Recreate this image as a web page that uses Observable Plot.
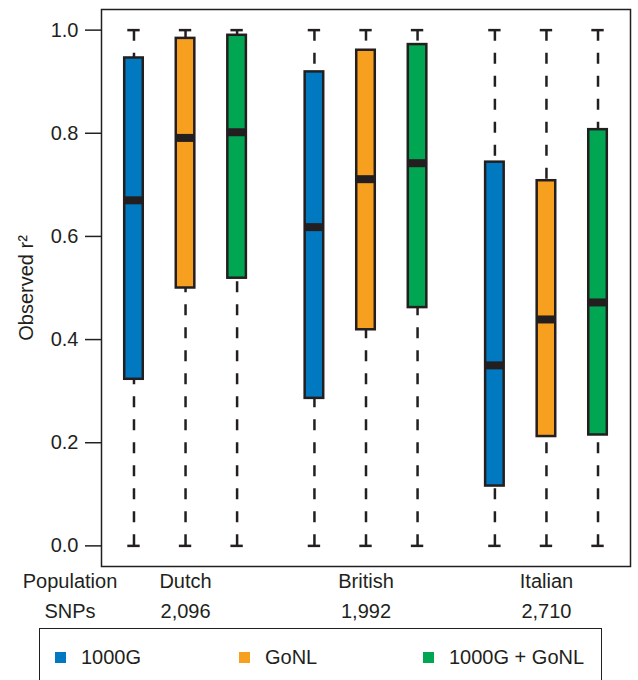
<!DOCTYPE html>
<html>
<head>
<meta charset="utf-8">
<script src="https://cdn.jsdelivr.net/npm/d3@7"></script>
<script src="https://cdn.jsdelivr.net/npm/@observablehq/plot@0.6"></script>
<style>
  html, body { margin: 0; padding: 0; background: #fff; }
  body { font-family: "Liberation Sans", Arial, sans-serif; color: #231f20; width: 638px; }
  #legend { margin-left: 39px; margin-top: 4px; width: 561px; height: 60px; border: 1.5px solid #231f20; border-bottom: none; position: relative; font-size: 20px; }
  .item { position: absolute; top: 17px; display: flex; align-items: center; }
  .sw { width: 11px; height: 11px; margin-right: 15px; }
</style>
</head>
<body>
<div id="chart"></div>
<div id="legend"></div>
<script>
const groups = ["Dutch", "British", "Italian"];
const snps = ["2,096", "1,992", "2,710"];
const panels = ["1000G", "GoNL", "1000G + GoNL"];
const colors = ["#0079c1", "#f79f1f", "#00a651"];
// per group (rows) and panel (columns)
const whiskerLow = [[0.0, 0.0, 0.0], [0.0, 0.0, 0.0], [0.0, 0.0, 0.0]];
const q1 = [[0.323, 0.500, 0.519], [0.286, 0.419, 0.462], [0.116, 0.212, 0.215]];
const median = [[0.670, 0.791, 0.802], [0.618, 0.711, 0.742], [0.350, 0.439, 0.472]];
const q3 = [[0.946, 0.984, 0.990], [0.919, 0.961, 0.972], [0.744, 0.708, 0.807]];
const whiskerHigh = [[1.0, 1.0, 1.0], [1.0, 1.0, 1.0], [1.0, 1.0, 1.0]];
const yTicks = [0, 0.2, 0.4, 0.6, 0.8, 1.0];

const rows = [];
groups.forEach((g, gi) => panels.forEach((p, pi) => {
  rows.push({group: g, panel: p, pos: 1 + gi * 3.5 + pi, lo: whiskerLow[gi][pi], q1: q1[gi][pi], med: median[gi][pi], q3: q3[gi][pi], hi: whiskerHigh[gi][pi]});
}));
const centers = groups.map((g, gi) => 1 + gi * 3.5 + 1);

const hw = 0.18, capw = 0.12, ink = "#231f20";
const chart = Plot.plot({
  width: 638, height: 624,
  marginLeft: 101, marginRight: 8, marginTop: 9, marginBottom: 58,
  style: {fontSize: "20px", fontFamily: "Liberation Sans, Arial, sans-serif", color: ink, background: "#fff"},
  x: {domain: [0.37, 10.63], axis: null},
  y: {domain: [-0.04, 1.04]},
  color: {domain: panels, range: colors},
  marks: [
    Plot.ruleX(rows, {x: "pos", y1: "lo", y2: "q1", stroke: ink, strokeWidth: 2.5, strokeDasharray: "11,12"}),
    Plot.ruleX(rows, {x: "pos", y1: "hi", y2: "q3", stroke: ink, strokeWidth: 2.5, strokeDasharray: "11,12"}),
    Plot.ruleY(rows, {y: "lo", x1: d => d.pos - capw, x2: d => d.pos + capw, stroke: ink, strokeWidth: 2.5}),
    Plot.ruleY(rows, {y: "hi", x1: d => d.pos - capw, x2: d => d.pos + capw, stroke: ink, strokeWidth: 2.5}),
    Plot.rect(rows, {x1: d => d.pos - hw, x2: d => d.pos + hw, y1: "q1", y2: "q3", fill: "panel", stroke: ink, strokeWidth: 2.5}),
    Plot.ruleY(rows, {y: "med", x1: d => d.pos - 0.19, x2: d => d.pos + 0.19, stroke: ink, strokeWidth: 8}),
    Plot.frame({stroke: ink, strokeWidth: 1.5}),
    Plot.axisY({ticks: yTicks, tickFormat: d3.format(".1f"), tickSize: 16, tickPadding: 7, strokeWidth: 1.5,
      label: "Observed r²", labelAnchor: "center", labelOffset: 83, labelArrow: "none"}),
    Plot.axisX(centers, {tickSize: 0, tickPadding: 7, label: null, tickFormat: d => groups[centers.indexOf(d)]}),
    Plot.axisX(centers, {tickSize: 0, tickPadding: 37, label: null, tickFormat: d => snps[centers.indexOf(d)]}),
    Plot.text(["Population"], {frameAnchor: "bottom-left", dx: -31.5, dy: 21, textAnchor: "middle", fill: ink}),
    Plot.text(["SNPs"], {frameAnchor: "bottom-left", dx: -31.5, dy: 51, textAnchor: "middle", fill: ink})
  ]
});
document.getElementById("chart").appendChild(chart);

const legend = document.getElementById("legend");
const lefts = [15, 199, 383];
panels.forEach((p, i) => {
  const it = document.createElement("div");
  it.className = "item";
  it.style.left = lefts[i] + "px";
  it.innerHTML = `<span class="sw" style="background:${colors[i]}"></span><span>${p}</span>`;
  legend.appendChild(it);
});
</script>
</body>
</html>
